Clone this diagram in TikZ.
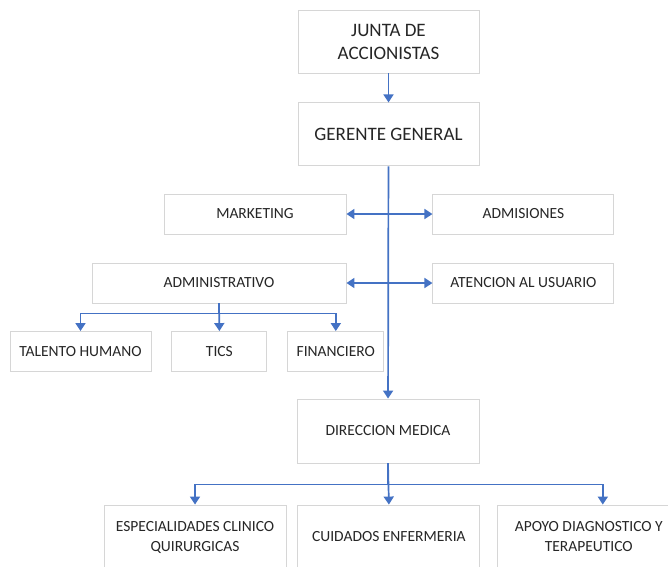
\documentclass[tikz,border=0pt]{standalone}
\usepackage{fontspec}
\setmainfont{Carlito}
\usepackage{tikz}
\usetikzlibrary{
  arrows.meta,
  positioning,
  calc
}
\definecolor{LinkBlue}{RGB}{68,114,196}
\definecolor{BoxGray}{RGB}{214,214,214}
\definecolor{TextGray}{RGB}{38,38,38}
\tikzset{
  bigbox/.style={draw=BoxGray,line width=0.9pt,fill=white,minimum height=63pt,minimum width=181pt,align=center,text=TextGray,font=\fontsize{19}{23}\selectfont,inner sep=0pt},
  unitbox/.style={draw=BoxGray,line width=0.9pt,fill=white,minimum height=40pt,minimum width=181pt,align=center,text=TextGray,font=\fontsize{15.5}{20}\selectfont,inner sep=0pt},
  lowbox/.style={draw=BoxGray,line width=0.9pt,fill=white,minimum height=64pt,minimum width=182pt,align=center,text=TextGray,font=\fontsize{15.5}{20}\selectfont,inner sep=0pt},
  link/.style={-{Triangle[length=8pt,width=10pt]},line width=1.7pt,draw=LinkBlue},
  biway/.style={{Triangle[length=8pt,width=10pt]}-{Triangle[length=8pt,width=10pt]},line width=1.7pt,draw=LinkBlue}
}

\begin{document}
\begin{tikzpicture}[x=1pt,y=1pt]
\clip (0,0) rectangle (668,-566);
\fill[white] (0,0) rectangle (668,-566);

\node[bigbox] (junta) at (388.5,-41.5) {JUNTA DE\\ACCIONISTAS};
\node[bigbox, below=29pt of junta] (gerente) {GERENTE GENERAL};

\node[unitbox, minimum width=182pt] (mkt) at (255,-214) {MARKETING};
\node[unitbox, right=86pt of mkt] (admis) {ADMISIONES};
\node[unitbox, minimum width=254pt] (admin) at (219,-283) {ADMINISTRATIVO};
\node[unitbox, right=86pt of admin] (atencion) {ATENCION AL USUARIO};

\node[unitbox, minimum width=141pt] (talento) at (80.5,-351.5) {TALENTO HUMANO};
\node[unitbox, minimum width=95pt, right=20pt of talento] (tics) {TICS};
\node[unitbox, minimum width=96pt, right=20pt of tics] (finan) {FINANCIERO};

\node[lowbox] (dirmed) at (388,-431) {DIRECCION MEDICA};
\node[lowbox] (espec) at (195,-537) {ESPECIALIDADES CLINICO\\QUIRURGICAS};
\node[lowbox, right=11pt of espec] (cuidados) {CUIDADOS ENFERMERIA};
\node[lowbox, right=17pt of cuidados] (apoyo) {APOYO DIAGNOSTICO Y\\TERAPEUTICO};

% main line
\draw[link] (junta) -- (gerente);
\draw[link] (gerente) -- (dirmed);
\draw[biway] (mkt) -- (admis);
\draw[biway] (admin) -- (atencion);

% administrativo
\draw[link] (admin.south) -- ++(0,-10) -| (talento.north);
\draw[link] (admin.south) -- (tics.north);
\draw[link] (admin.south) -- ++(0,-10) -| (finan.north);

% direccion medica
\draw[link] (dirmed.south) -- ++(0,-21) -| (espec.north);
\draw[link] (dirmed.south) -- (cuidados.north);
\draw[link] (dirmed.south) -- ++(0,-21) -| ([xshift=14pt]apoyo.north);
\end{tikzpicture}
\end{document}
